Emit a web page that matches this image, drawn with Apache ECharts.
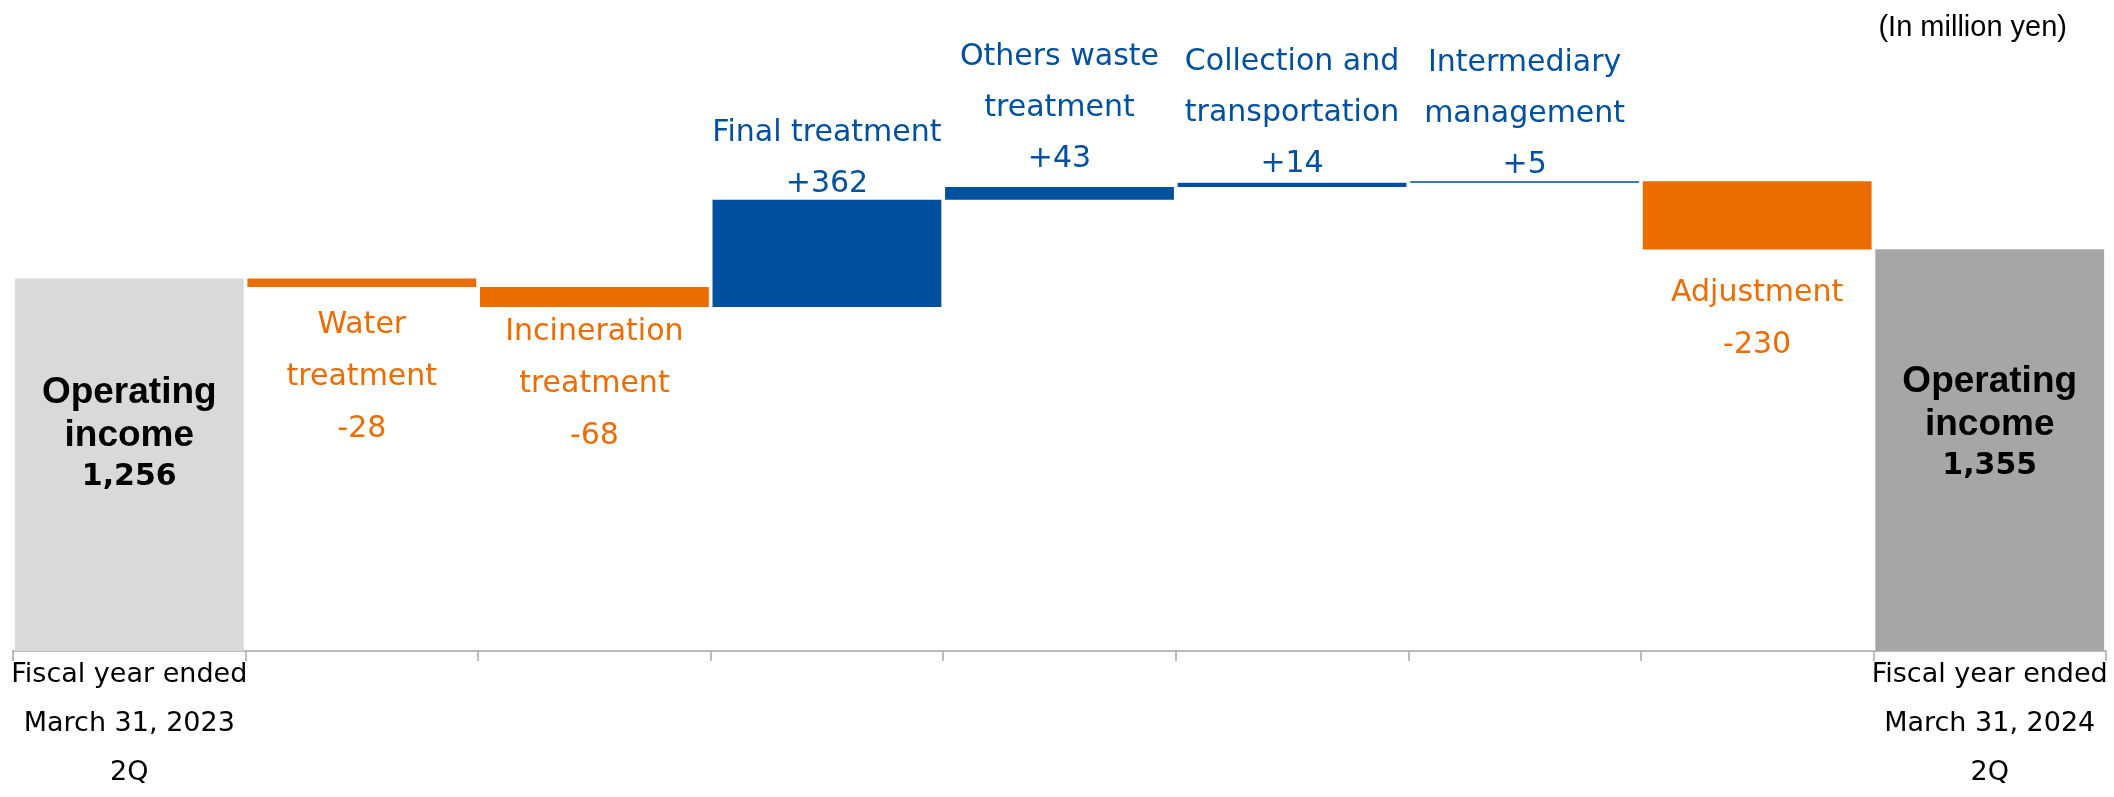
<!DOCTYPE html>
<html>
<head>
<meta charset="utf-8">
<title>Operating income bridge</title>
<script src="https://cdn.jsdelivr.net/npm/echarts@6/dist/echarts.min.js"></script>
<style>
  html, body { margin: 0; padding: 0; background: #fff; }
  #chart { width: 2114px; height: 797px; }
</style>
</head>
<body>
<div id="chart"></div>
<script>
// 横軸ラベル（両端のみ）
const categories = [
  'Fiscal year ended\nMarch 31, 2023\n2Q', '', '', '', '', '', '', '',
  'Fiscal year ended\nMarch 31, 2024\n2Q'
];
// 各棒の名前
const itemNames = [
  'Operating\nincome', 'Water\ntreatment', 'Incineration\ntreatment', 'Final treatment',
  'Others waste\ntreatment', 'Collection and\ntransportation', 'Intermediary\nmanagement',
  'Adjustment', 'Operating\nincome'
];
// 両端は合計、中間は増減
const changes = [1256, -28, -68, 362, 43, 14, 5, -230, 1355];
const unitNote = '(In million yen)';

const ORANGE = '#ED6C00';
const BLUE = '#0050A0';
const totalColors = ['#D9D9D9', '#A6A6A6'];
// ラベル位置の微調整
const labelDistance = [93, 12, -1, -10, 2, -7, -9, 18, 111];

let running = 0;
const base = [];
const bars = [];
changes.forEach(function (v, i) {
  const last = changes.length - 1;
  const isTotal = (i === 0 || i === last);
  let start, h, color, label;
  if (isTotal) {
    start = 0; h = v; running = v;
    color = totalColors[i === 0 ? 0 : 1];
    label = {
      position: 'insideTop',
      distance: labelDistance[i],
      formatter: itemNames[i].split('\n').map(function (s) { return '{t|' + s + '}'; }).join('\n') +
        '\n{n|' + v.toLocaleString('en-US') + '}',
      rich: {
        t: { fontFamily: 'Liberation Sans', fontWeight: 'bold', fontSize: 37, lineHeight: 43, color: '#000' },
        n: { fontFamily: 'DejaVu Sans', fontWeight: 'bold', fontSize: 30, lineHeight: 40, color: '#000' }
      }
    };
  } else if (v >= 0) {
    start = running; h = v; running += v;
    color = BLUE;
    label = {
      position: 'top',
      distance: labelDistance[i],
      formatter: itemNames[i] + '\n+' + v,
      color: BLUE, fontFamily: 'DejaVu Sans', fontSize: 30, lineHeight: 51
    };
  } else {
    running += v; start = running; h = -v;
    color = ORANGE;
    label = {
      position: 'bottom',
      distance: labelDistance[i],
      formatter: itemNames[i] + '\n' + v,
      color: ORANGE, fontFamily: 'DejaVu Sans', fontSize: 30, lineHeight: 52
    };
  }
  label.show = true;
  base.push(start);
  bars.push({ value: h, itemStyle: { color: color }, label: label });
});

const myChart = echarts.init(document.getElementById('chart'));
myChart.setOption({
  animation: false,
  title: {
    text: unitNote,
    right: 47, top: 13, padding: 0,
    textStyle: { fontFamily: 'Liberation Sans', fontWeight: 'normal', fontSize: 29, color: '#000' }
  },
  grid: { left: 13, right: 8, top: 58, bottom: 129 },
  xAxis: {
    type: 'category',
    data: categories,
    boundaryGap: true,
    axisLine: { lineStyle: { color: '#A6A6A6', width: 1.5 } },
    axisTick: { show: true, interval: 0, length: 10, lineStyle: { color: '#A6A6A6', width: 1.5 } },
    axisLabel: {
      interval: 0, margin: -1,
      fontFamily: 'DejaVu Sans', fontSize: 27, lineHeight: 49, color: '#000'
    }
  },
  yAxis: { type: 'value', min: 0, max: 2000, show: false, splitLine: { show: false } },
  series: [
    {
      type: 'bar', stack: 'w', data: base, silent: true,
      itemStyle: { color: 'transparent' }, barWidth: '98.4%'
    },
    {
      type: 'bar', stack: 'w', data: bars, barWidth: '98.4%'
    }
  ]
});
</script>
</body>
</html>
